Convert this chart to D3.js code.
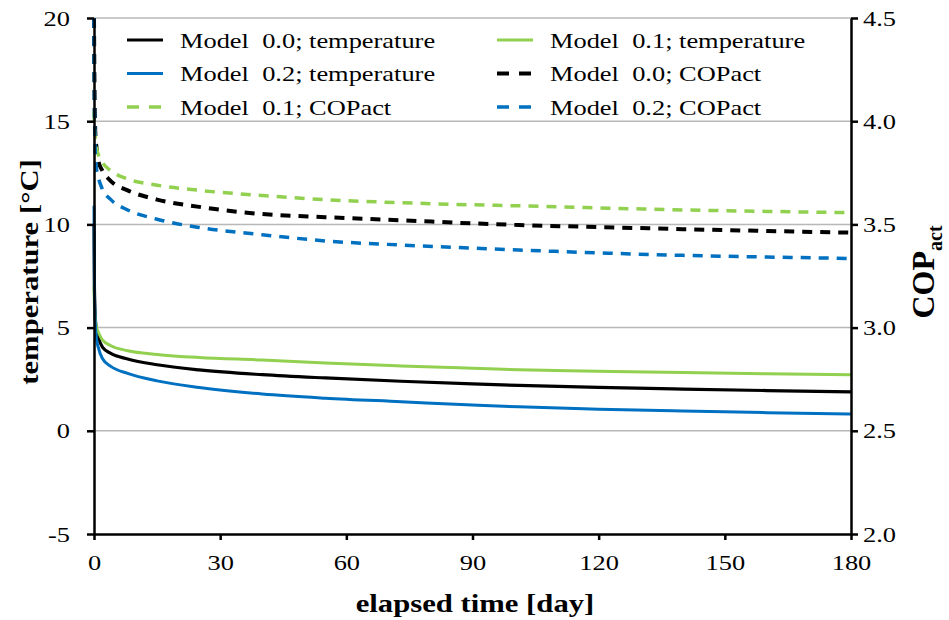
<!DOCTYPE html>
<html>
<head>
<meta charset="utf-8">
<script src="https://cdn.jsdelivr.net/npm/d3@7"></script>
<style>
  body { margin: 0; background: #fff; }
  svg text { font-family: "Liberation Serif", "Times New Roman", Times, "DejaVu Serif", serif; fill: #000; }
</style>
</head>
<body>
<div id="chart"></div>
<script>
(function () {
  "use strict";

  let days = [0, 0.1, 0.3, 0.6, 1, 2, 4, 8, 15, 25, 40, 55, 73, 90, 101, 120, 140, 160, 180]

  let temp00 = [10.0, 7.0, 5.5, 4.9, 4.55, 4.05, 3.75, 3.48, 3.2, 2.95, 2.72, 2.56, 2.40, 2.27, 2.20, 2.10, 2.02, 1.95, 1.89]
  let temp01 = [7.0, 6.0, 5.4, 5.0, 4.8, 4.4, 4.12, 3.88, 3.7, 3.55, 3.43, 3.28, 3.14, 3.03, 2.96, 2.89, 2.82, 2.76, 2.71]
  let temp02 = [10.9, 7.0, 5.2, 4.45, 4.05, 3.5, 3.12, 2.78, 2.42, 2.1, 1.78, 1.58, 1.41, 1.25, 1.16, 1.05, 0.96, 0.88, 0.81]

  let cop00 = [4.5, 4.2, 3.95, 3.87, 3.81, 3.76, 3.71, 3.665, 3.62, 3.585, 3.55, 3.535, 3.52, 3.505, 3.497, 3.487, 3.477, 3.468, 3.46]
  let cop01 = [4.05, 3.98, 3.92, 3.87, 3.84, 3.8, 3.76, 3.72, 3.69, 3.665, 3.64, 3.62, 3.605, 3.595, 3.59, 3.58, 3.57, 3.563, 3.557]
  let cop02 = [4.5, 4.1, 3.85, 3.77, 3.73, 3.67, 3.62, 3.57, 3.525, 3.485, 3.45, 3.42, 3.40, 3.385, 3.376, 3.362, 3.35, 3.342, 3.335]

  let xTicks = [0, 30, 60, 90, 120, 150, 180]
  let tempTicks = [-5, 0, 5, 10, 15, 20]
  let copTicks = [2.0, 2.5, 3.0, 3.5, 4.0, 4.5]

  let black = '#000000', green = '#92d050', blue = '#0070c0'

  let series = [
    {name: 'Model  0.0; temperature', values: temp00, axis: 'temp', color: black, dash: null, width: 3.2},
    {name: 'Model  0.1; temperature', values: temp01, axis: 'temp', color: green, dash: null, width: 3},
    {name: 'Model  0.2; temperature', values: temp02, axis: 'temp', color: blue, dash: null, width: 3},
    {name: 'Model  0.0; COPact', values: cop00, axis: 'cop', color: black, dash: '10,8', width: 4},
    {name: 'Model  0.1; COPact', values: cop01, axis: 'cop', color: green, dash: '10,8', width: 3.5},
    {name: 'Model  0.2; COPact', values: cop02, axis: 'cop', color: blue, dash: '10,8', width: 3.5}
  ]

  let W = 949, H = 620
  let left = 94, right = 851, top = 18, bottom = 534
  let serif = '"Liberation Serif", "Times New Roman", Times, "DejaVu Serif", serif'

  let svg = d3.select('#chart').append('svg')
    .attr('width', W)
    .attr('height', H)
    .attr('font-family', serif)

  let x = d3.scaleLinear().domain([0, 180]).range([left, right])
  let yT = d3.scaleLinear().domain([-5, 20]).range([bottom, top])
  let yC = d3.scaleLinear().domain([2.0, 4.5]).range([bottom, top])

  // gridlines
  svg.append('g')
    .selectAll('line')
    .data(tempTicks.filter(function(d){ return d > -5 }))
    .enter().append('line')
      .attr('x1', left)
      .attr('x2', right)
      .attr('y1', function(d){ return yT(d) })
      .attr('y2', function(d){ return yT(d) })
      .attr('stroke', '#b8b8b8')
      .attr('stroke-width', 1.5)

  // curves
  series.forEach(function(s){
    let yScale = s.axis === 'temp' ? yT : yC
    let line = d3.line()
      .x(function(d, i){ return x(days[i]) })
      .y(function(d){ return yScale(d) })
      .curve(d3.curveMonotoneX)
    svg.append('path')
      .datum(s.values)
      .attr('d', line)
      .attr('fill', 'none')
      .attr('stroke', s.color)
      .attr('stroke-width', s.width)
      .attr('stroke-dasharray', s.dash)
  })

  function styleAxis(g){
    g.attr('font-family', serif).attr('font-size', 22)
    g.selectAll('.domain').attr('stroke', '#000').attr('stroke-width', 2.5)
    g.selectAll('.tick line').attr('stroke', '#000').attr('stroke-width', 2.5)
    g.selectAll('.tick text')
      .style('font-family', serif)
      .style('font-size', '22px')
      .attr('fill', '#000')
  }

  // plain hyphen for negatives, like the source
  let intFmt = function(d){ return String(d) }

  svg.append('g')
    .attr('transform', `translate(0,${bottom})`)
    .call(d3.axisBottom(x).tickValues(xTicks).tickSizeInner(6).tickSizeOuter(0).tickPadding(14).tickFormat(intFmt))
    .call(styleAxis)

  svg.append('g')
    .attr('transform', `translate(${left},0)`)
    .call(d3.axisLeft(yT).tickValues(tempTicks).tickSizeInner(7).tickSizeOuter(0).tickPadding(17).tickFormat(intFmt))
    .call(styleAxis)

  svg.append('g')
    .attr('transform', `translate(${right},0)`)
    .call(d3.axisRight(yC).tickValues(copTicks).tickSizeInner(7).tickSizeOuter(0).tickPadding(5).tickFormat(d3.format('.1f')))
    .call(styleAxis)

  // axis titles
  svg.append('text')
    .attr('class', 'title')
    .attr('x', 475)
    .attr('y', 612)
    .attr('text-anchor', 'middle')
    .style('font-size', '26px')
    .style('font-weight', 'bold')
    .text('elapsed time [day]')

  svg.append('text')
    .attr('class', 'title')
    .attr('transform', `translate(38,272) rotate(-90)`)
    .attr('text-anchor', 'middle')
    .style('font-size', '26px')
    .style('font-weight', 'bold')
    .text('temperature [°C]')

  let copTitle = svg.append('text')
    .attr('transform', `translate(934,272) rotate(-90)`)
    .attr('text-anchor', 'middle')
    .style('font-size', '32px')
    .style('font-weight', 'bold')
  copTitle.append('tspan').text('COP')
  copTitle.append('tspan')
    .attr('dy', 8)
    .style('font-size', '20px')
    .text('act')

  // legend: two columns, three rows, filled row by row
  let legend = svg.append('g')
  series.forEach(function(s, i){
    let col = i % 2, row = Math.floor(i / 2)
    let lx = col === 0 ? 127 : 497
    let ly = 40 + row * 33.5
    let item = legend.append('g').attr('transform', `translate(${lx},${ly})`)
    item.append('line')
      .attr('x1', 0)
      .attr('x2', 36)
      .attr('stroke', s.color)
      .attr('stroke-width', s.width)
      .attr('stroke-dasharray', s.dash ? '12,10' : null)
    item.append('text')
      .attr('class', 'stretch')
      .attr('x', 53)
      .attr('dy', '0.35em')
      .style('font-size', '22px')
      .attr('xml:space', 'preserve')
      .style('white-space', 'pre')
      .text(s.name)
  })

  // the source lettering runs wider than the glyph height suggests
  function stretch(sel, k){
    sel.each(function(){
      let w = this.getComputedTextLength()
      d3.select(this)
        .attr('textLength', w * k)
        .attr('lengthAdjust', 'spacingAndGlyphs')
    })
  }
  stretch(svg.selectAll('.tick text'), 1.2)
  stretch(svg.selectAll('text.stretch'), 1.2)
  stretch(svg.selectAll('text.title'), 1.18)

}());
</script>
</body>
</html>
